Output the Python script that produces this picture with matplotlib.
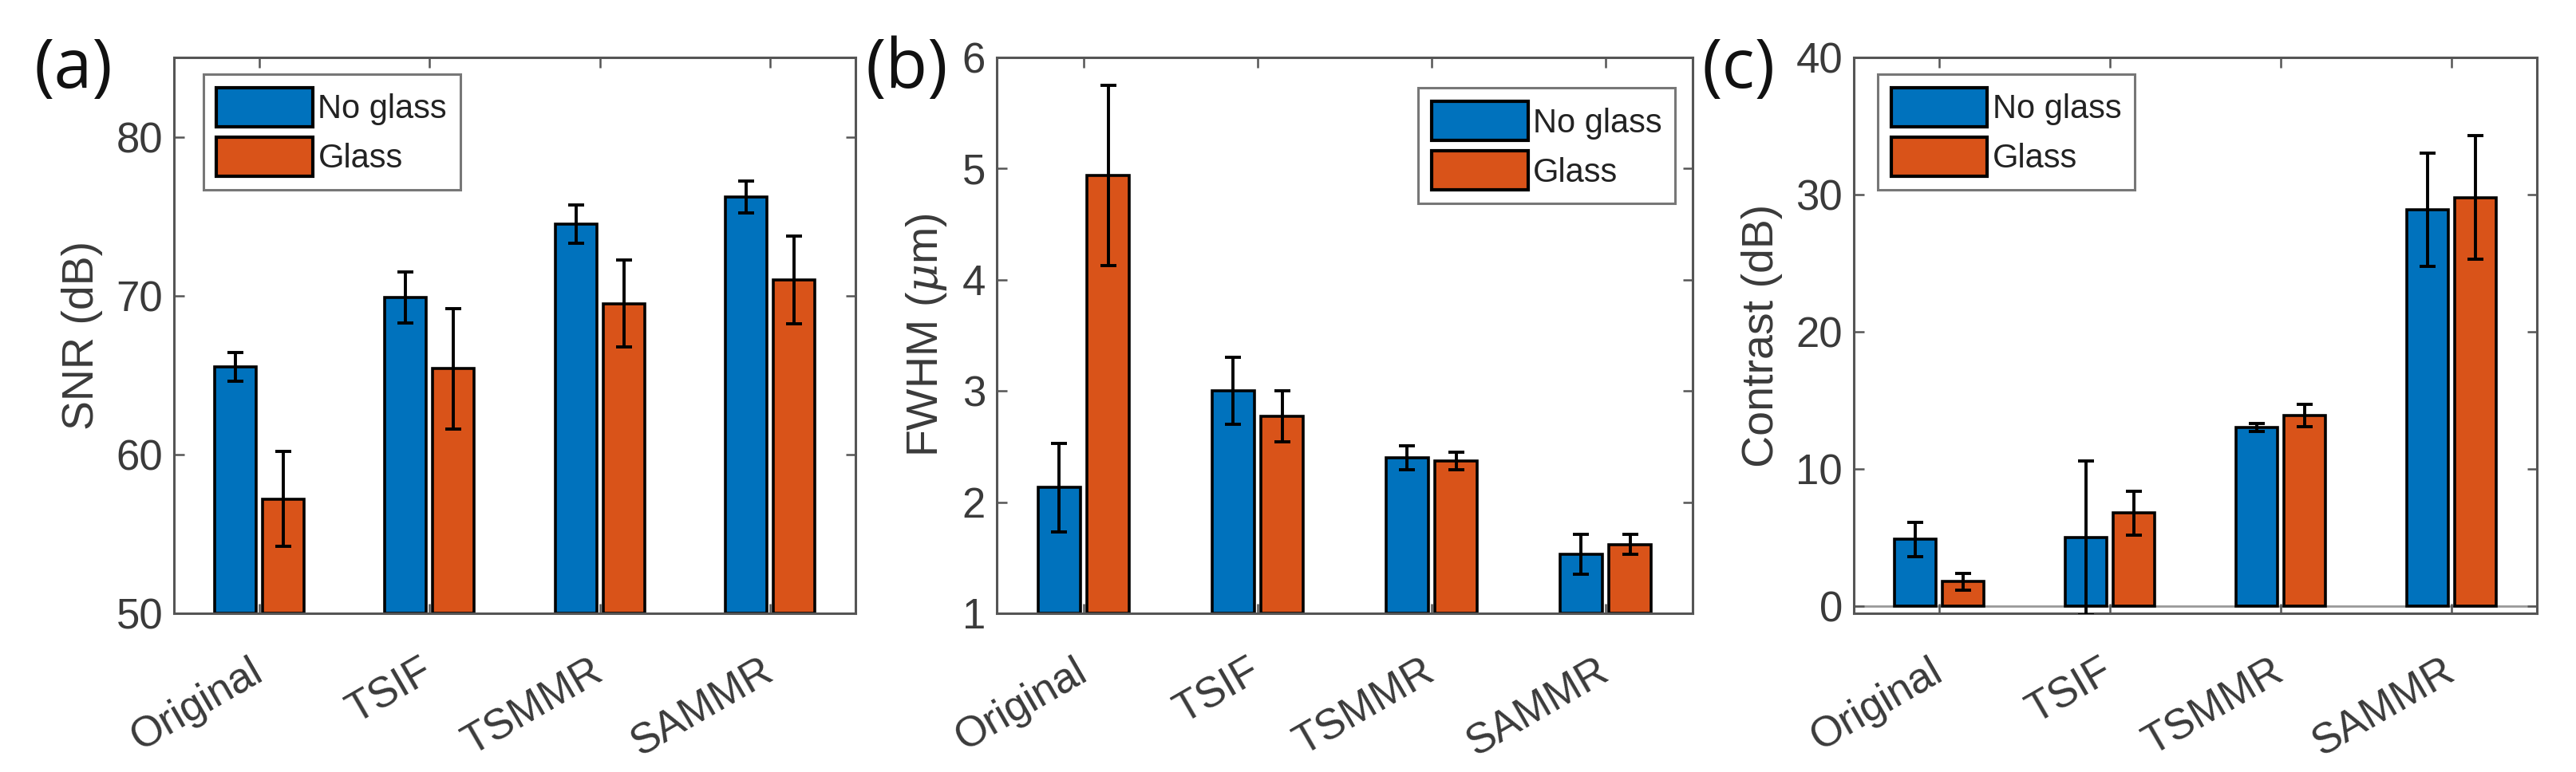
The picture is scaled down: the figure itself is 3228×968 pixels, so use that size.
import numpy as np
import matplotlib
matplotlib.use("Agg")
import matplotlib.pyplot as plt

plt.rcParams['font.family'] = ['Liberation Sans', 'DejaVu Sans']
plt.rcParams['mathtext.fontset'] = 'custom'
plt.rcParams['mathtext.it'] = 'DejaVu Serif:italic'

# Data
methods = ['Original', 'TSIF', 'TSMMR', 'SAMMR']
legend_labels = ['No glass', 'Glass']

snr_noglass = [65.5, 69.9, 74.5, 76.2]
snr_noglass_err = [0.9, 1.6, 1.2, 1.0]
snr_glass = [57.2, 65.4, 69.5, 71.0]
snr_glass_err = [3.0, 3.8, 2.75, 2.75]

fwhm_noglass = [2.13, 3.0, 2.40, 1.53]
fwhm_noglass_err = [0.40, 0.30, 0.11, 0.18]
fwhm_glass = [4.94, 2.77, 2.37, 1.62]
fwhm_glass_err = [0.81, 0.23, 0.08, 0.09]

con_noglass = [4.9, 5.0, 13.05, 28.9]
con_noglass_err = [1.25, 5.6, 0.3, 4.15]
con_glass = [1.8, 6.8, 13.9, 29.8]
con_glass_err = [0.6, 1.6, 0.8, 4.5]

blue = '#0072BD'
orange = '#D95319'
axcol = '#555555'
txtcol = '#3a3a3a'

fig = plt.figure(figsize=(32.28, 9.68), dpi=100)

# axes positions in pixels: left, right; top and bottom shared
H = 968.0
W = 3228.0
top_px, bot_px = 72, 769
panels_px = [(218, 1072), (1249, 2121), (2323, 3179)]

def make_axes(l, r):
    return fig.add_axes([l / W, 1 - bot_px / H, (r - l) / W, (bot_px - top_px) / H])

def draw_panel(ax, ng, ng_err, g, g_err, ylim, yticks, ylabel, leg_anchor, leg_loc, baseline=None):
    x = np.arange(1, len(methods) + 1)
    off = 0.14
    w = 0.243
    bottom = baseline if baseline is not None else ylim[0]
    ng_h = np.array(ng) - bottom
    g_h = np.array(g) - bottom
    ax.bar(x - off, ng_h, w, bottom=bottom, color=blue, edgecolor='black', linewidth=2.6, label=legend_labels[0], zorder=2)
    ax.bar(x + off, g_h, w, bottom=bottom, color=orange, edgecolor='black', linewidth=2.6, label=legend_labels[1], zorder=2)
    ax.errorbar(x - off, ng, yerr=ng_err, fmt='none', ecolor='black', elinewidth=2.8, capsize=7, capthick=2.8, zorder=3)
    ax.errorbar(x + off, g, yerr=g_err, fmt='none', ecolor='black', elinewidth=2.8, capsize=7, capthick=2.8, zorder=3)
    if baseline is not None:
        ax.axhline(baseline, color='#999999', linewidth=2, zorder=1)
    ax.set_xlim(0.5, 4.5)
    ax.set_ylim(*ylim)
    ax.set_yticks(yticks)
    ax.set_xticks(x)
    ax.set_xticklabels(methods, rotation=30, ha='right', va='center', rotation_mode='anchor')
    for lab in ax.get_xticklabels():
        lab.set_color('black' if lab.get_text() == 'TSIF' else txtcol)
    ax.tick_params(axis='both', direction='in', length=9, width=1.8, color=axcol,
                   labelsize=38, labelcolor=txtcol, top=True, right=True)
    ax.tick_params(axis='x', pad=50)
    ax.tick_params(axis='y', pad=10)
    for s in ax.spines.values():
        s.set_color(axcol)
        s.set_linewidth(2.2)
    ax.set_ylabel(ylabel, fontsize=40, color=txtcol, labelpad=12)
    leg = ax.legend(loc=leg_loc, bbox_to_anchor=leg_anchor, fontsize=30, frameon=True, fancybox=False,
                    edgecolor=axcol, handlelength=2.9, handleheight=1.45, handletextpad=0.15,
                    labelspacing=0.3, borderpad=0.4, borderaxespad=0)
    leg.get_frame().set_linewidth(2.2)
    for t in leg.get_texts():
        t.set_color('#222222')
    for p in leg.get_patches():
        p.set_linewidth(3)

axa = make_axes(*panels_px[0])
draw_panel(axa, snr_noglass, snr_noglass_err, snr_glass, snr_glass_err,
           (50, 85), [50, 60, 70, 80], 'SNR (dB)', (0.043, 0.97), 'upper left')

axb = make_axes(*panels_px[1])
draw_panel(axb, fwhm_noglass, fwhm_noglass_err, fwhm_glass, fwhm_glass_err,
           (1, 6), [1, 2, 3, 4, 5, 6], r'FWHM ($\mu$m)', (0.975, 0.945), 'upper right')

axc = make_axes(*panels_px[2])
draw_panel(axc, con_noglass, con_noglass_err, con_glass, con_glass_err,
           (-0.5, 40), [0, 10, 20, 30, 40], 'Contrast (dB)', (0.035, 0.97), 'upper left', baseline=0)

# panel labels
for lbl, xp in [('(a)', 42), ('(b)', 1084), ('(c)', 2132)]:
    fig.text(xp / W, 1 - 88 / H, lbl, fontsize=62, ha='left', va='center',
             family=['Open Sans', 'DejaVu Sans'], color='#111111')

fig.savefig('out.png', dpi=100)
